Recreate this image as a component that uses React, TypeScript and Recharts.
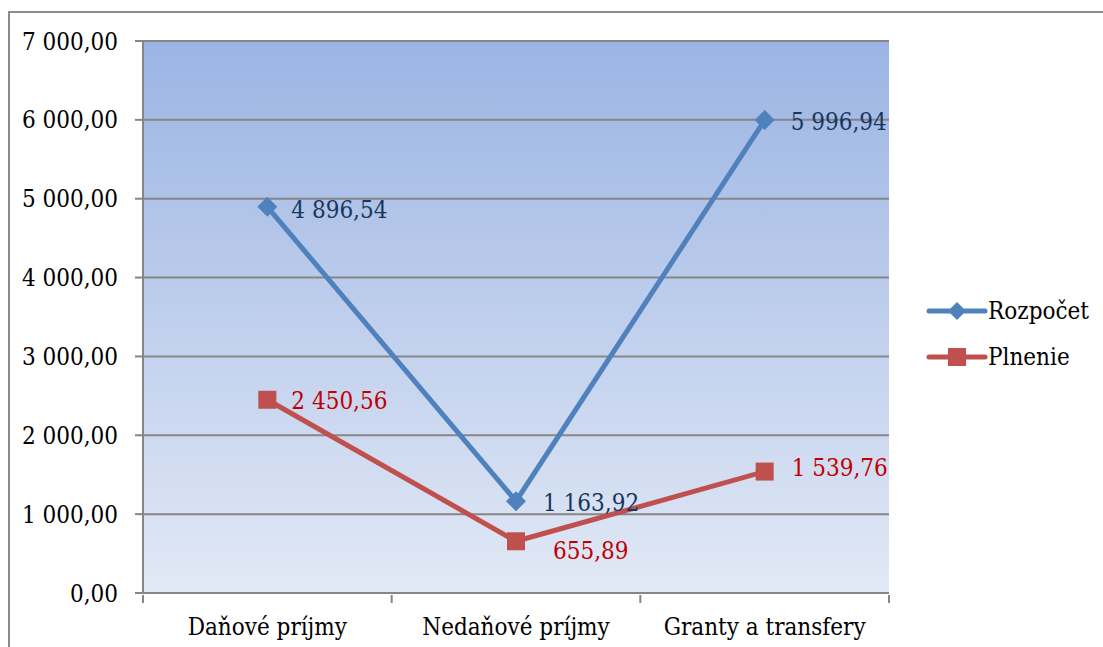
import { LineChart, Line, XAxis, YAxis, CartesianGrid } from 'recharts';

const categories = ['Daňové príjmy', 'Nedaňové príjmy', 'Granty a transfery'];
const rozpocet = [4896.54, 1163.92, 5996.94];
const plnenie = [2450.56, 655.89, 1539.76];
const yTicks = [0, 1000, 2000, 3000, 4000, 5000, 6000, 7000];

const data = categories.map((name, i) => ({ name, rozpocet: rozpocet[i], plnenie: plnenie[i] }));

const FONT = "'DejaVu Serif Condensed', 'DejaVu Serif', serif";
const FS = 24;
const BLUE = '#4f81bd';
const RED = '#c0504d';
const W = 1103;
const H = 647;
const margin = { top: 41, right: 214, bottom: 0, left: 8 };
const bandWidth = (W - 143 - margin.right) / categories.length;

const fmt = (v: number) => {
    const [int, dec] = v.toFixed(2).split('.');
    return int.replace(/\B(?=(\d{3})+(?!\d))/g, ' ') + ',' + dec;
};

const Diamond = ({ cx, cy }: any) => {
    if (cx == null || cy == null) return null;
    const r = 10;
    return <polygon points={`${cx},${cy - r} ${cx + r},${cy} ${cx},${cy + r} ${cx - r},${cy}`} fill={BLUE} />;
};

const Square = ({ cx, cy }: any) => {
    if (cx == null || cy == null) return null;
    return <rect x={cx - 9} y={cy - 9} width={18} height={18} fill={RED} />;
};

const makeLabel = (color: string, offsets: [number, number][]) => (props: any) => {
    const { x, y, value, index } = props;
    const [dx, dy] = offsets[index] || [24, 2];
    return (
        <text x={x + dx} y={y + dy} fill={color} fontSize={FS} fontFamily={FONT} dominantBaseline="central">
            {fmt(value)}
        </text>
    );
};

const XTick = (props: any) => {
    const { x, y, payload, index } = props;
    const half = bandWidth / 2;
    const axisY = y - 8;
    return (
        <g>
            <line x1={x - half} y1={axisY} x2={x - half} y2={axisY + 8} stroke="#868686" strokeWidth={2} />
            {index === categories.length - 1 && (
                <line x1={x + half} y1={axisY} x2={x + half} y2={axisY + 8} stroke="#868686" strokeWidth={2} />
            )}
            <text x={x} y={axisY + 40} textAnchor="middle" fill="#000" fontSize={FS} fontFamily={FONT}>
                {payload.value}
            </text>
        </g>
    );
};

const legendItems = [
    { name: 'Rozpočet', color: BLUE, marker: 'diamond' },
    { name: 'Plnenie', color: RED, marker: 'square' },
];

export default function App() {
    return (
        <div style={{ position: 'absolute', left: 0, top: 0, width: W, height: H, background: '#fff', overflow: 'hidden' }}>
            <div
                style={{
                    position: 'absolute',
                    left: 8,
                    top: 11,
                    width: W,
                    height: H,
                    borderLeft: '2px solid #8c8c8c',
                    borderTop: '2px solid #8c8c8c',
                }}
            />
            <LineChart width={W} height={H} data={data} margin={margin} style={{ position: 'absolute', left: 0, top: 0 }}>
                <defs>
                    <linearGradient id="bg" x1="0" y1="0" x2="0" y2="1">
                        <stop offset="0%" stopColor="#9bb4e3" />
                        <stop offset="100%" stopColor="#e2e9f6" />
                    </linearGradient>
                </defs>
                <CartesianGrid vertical={false} fill="url(#bg)" stroke="#868686" strokeWidth={2} fillOpacity={1} />
                <XAxis
                    dataKey="name"
                    stroke="#868686"
                    strokeWidth={2}
                    tickLine={false}
                    tickSize={8}
                    tick={<XTick />}
                    interval={0}
                    height={54}
                    padding={{ left: bandWidth / 2, right: bandWidth / 2 }}
                />
                <YAxis
                    domain={[0, 7000]}
                    ticks={yTicks}
                    width={135}
                    stroke="#868686"
                    strokeWidth={2}
                    tickSize={8}
                    tickMargin={17}
                    tickFormatter={fmt}
                    tick={{ fill: '#000', fontSize: FS, fontFamily: FONT }}
                />
                <Line
                    dataKey="rozpocet"
                    stroke={BLUE}
                    strokeWidth={5}
                    dot={<Diamond />}
                    activeDot={false}
                    isAnimationActive={false}
                    label={makeLabel('#17375e', [[24, 3], [27, 2], [26, 2]])}
                />
                <Line
                    dataKey="plnenie"
                    stroke={RED}
                    strokeWidth={5}
                    dot={<Square />}
                    activeDot={false}
                    isAnimationActive={false}
                    label={makeLabel('#c00000', [[24, 1], [37, 10], [27, -4]])}
                />
            </LineChart>
            <svg width={200} height={100} style={{ position: 'absolute', left: 915, top: 285 }}>
                {legendItems.map((item, i) => {
                    const cy = 26 + i * 46;
                    return (
                        <g key={item.name}>
                            <line x1={14} y1={cy} x2={70} y2={cy} stroke={item.color} strokeWidth={5} strokeLinecap="round" />
                            {item.marker === 'diamond' ? (
                                <polygon points={`42,${cy - 9} 51,${cy} 42,${cy + 9} 33,${cy}`} fill={item.color} />
                            ) : (
                                <rect x={33} y={cy - 9} width={18} height={18} fill={item.color} />
                            )}
                            <text x={73} y={cy} dominantBaseline="central" fontSize={FS} fontFamily={FONT} fill="#000">
                                {item.name}
                            </text>
                        </g>
                    );
                })}
            </svg>
        </div>
    );
}
